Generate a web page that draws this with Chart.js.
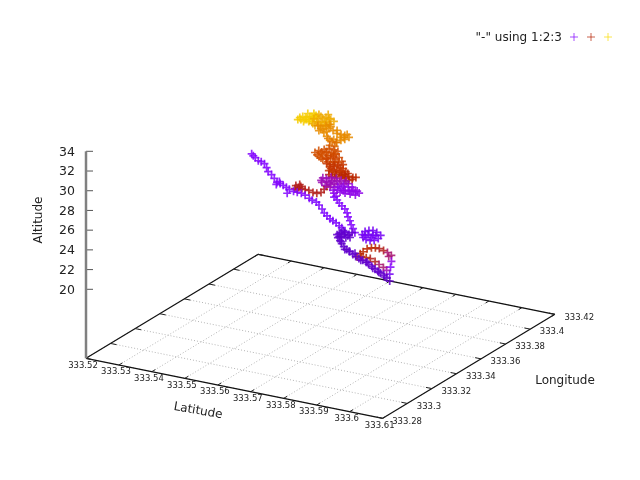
<!DOCTYPE html>
<html>
<head>
<meta charset="utf-8">
<style>
  html, body { margin: 0; padding: 0; background: #fff; }
  canvas { display: block; }
</style>
<script src="https://cdn.jsdelivr.net/npm/chart.js@4"></script>
</head>
<body>
<canvas id="flightChart" width="640" height="480"></canvas>
<script>
// Tick labels of the three axes
const latTicks = ["333.52", "333.53", "333.54", "333.55", "333.56", "333.57", "333.58", "333.59", "333.6", "333.61"];
const lonTicks = ["333.28", "333.3", "333.32", "333.34", "333.36", "333.38", "333.4", "333.42"];
const altTicks = ["20", "22", "24", "26", "28", "30", "32", "34"];

// Flight track
const latitude = [
  333.5588, 333.5576, 333.5578, 333.5573, 333.5569, 333.5582, 333.5594, 333.5592,
  333.5562, 333.5562, 333.5562, 333.5582, 333.5583, 333.5601, 333.5601, 333.5559, 333.5578, 333.5589, 333.5589,
  333.5574, 333.5576, 333.5587, 333.5598, 333.5599, 333.5581, 333.5566, 333.5554, 333.5575,
  333.5586, 333.5594, 333.5607, 333.5614, 333.5614, 333.5578, 333.5592, 333.5558, 333.5583, 333.5597, 333.5603, 333.5616,
  333.5662, 333.5664, 333.5669, 333.5671, 333.5654, 333.5642, 333.5629, 333.5609, 333.5592, 333.5617, 333.5596, 333.5574, 333.5574, 333.5579, 333.5556,
  333.5577, 333.5582, 333.5598, 333.5589, 333.5618, 333.5656, 333.566, 333.5651, 333.5639, 333.5644,
  333.5609, 333.5611, 333.5624, 333.5617, 333.5602,
  333.5592, 333.5572, 333.5571, 333.5582, 333.5598, 333.5611, 333.56, 333.5591,
  333.5558, 333.5559, 333.5568, 333.5575, 333.5582, 333.5583, 333.5605, 333.5606, 333.5602, 333.5607, 333.5575, 333.5583, 333.5608,
  333.563, 333.5615, 333.5604, 333.5611, 333.5595, 333.5588,
  333.5622, 333.5618, 333.5597, 333.5613, 333.5634,
  333.5639, 333.562, 333.5613, 333.5616, 333.56, 333.5589, 333.5627,
  333.5571, 333.5608, 333.5604, 333.5612, 333.5644, 333.5602, 333.5629, 333.5591, 333.5629, 333.5651, 333.5623, 333.5599,
  333.5645, 333.5632, 333.5631, 333.5612, 333.5596, 333.5616, 333.5594, 333.5652, 333.5647,
  333.558, 333.5604, 333.5613, 333.5619, 333.5651, 333.5629,
  333.5953, 333.5949, 333.5948, 333.5946, 333.5952, 333.5961,
  333.5936, 333.5953, 333.5932, 333.5952, 333.595, 333.59, 333.5883, 333.587,
  333.5944, 333.5959, 333.5953, 333.5975, 333.5958, 333.5979, 333.596,
  333.5582, 333.5588, 333.5592, 333.5586, 333.5574, 333.5557, 333.5545, 333.5534, 333.5523, 333.5509, 333.5527, 333.5514, 333.5518, 333.5524,
  333.5482, 333.5477, 333.5484, 333.55, 333.5518, 333.5533, 333.5498, 333.5513, 333.5529, 333.5501, 333.5519, 333.553, 333.5536, 333.5473,
  333.5491, 333.5499, 333.5514, 333.5467, 333.5511, 333.5547,
  333.5513, 333.5509, 333.5511, 333.5527, 333.554, 333.5545, 333.5558, 333.557, 333.5569, 333.5553, 333.5538, 333.5523, 333.5529, 333.55, 333.5508, 333.5523, 333.5532,
  333.5525, 333.5547, 333.5556, 333.5498,
  333.5672, 333.5653, 333.5634, 333.5616, 333.5597, 333.558, 333.556, 333.5542, 333.5525, 333.5509, 333.5491,
  333.5659, 333.5654, 333.5659, 333.5668, 333.5684, 333.5704, 333.571, 333.5708, 333.5699, 333.5686, 333.5672, 333.5672, 333.5686, 333.569, 333.5693, 333.5668,
  333.5439, 333.5418, 333.5402, 333.5389, 333.5377, 333.536, 333.5346, 333.537, 333.5331, 333.5317, 333.5306, 333.5308, 333.5312, 333.5285, 333.5264, 333.5245, 333.5227, 333.5207, 333.5192, 333.5182, 333.5164, 333.5152, 333.5141,
  333.5627, 333.5605, 333.5592, 333.5574, 333.5559, 333.5545, 333.5527, 333.551, 333.549, 333.5468, 333.5451, 333.5434,
  333.5859, 333.5841, 333.5823, 333.5808, 333.5795, 333.5781, 333.5762, 333.5748, 333.5735, 333.572, 333.5704, 333.5689, 333.5675, 333.5657, 333.5643, 333.5625, 333.5609, 333.5594, 333.5578, 333.5565, 333.5566, 333.5575, 333.5592, 333.5596, 333.5583, 333.5593, 333.5581,
  333.5832, 333.5801, 333.5772, 333.5737, 333.5715, 333.5676, 333.5655, 333.5638, 333.56, 333.5577, 333.5605, 333.5591, 333.5566, 333.5564
];
const longitude = [
  333.363, 333.3645, 333.3607, 333.3589, 333.3558, 333.3545, 333.3555, 333.3593,
  333.3552, 333.3592, 333.3633, 333.3571, 333.3611, 333.3561, 333.3602, 333.3576, 333.3567, 333.3577, 333.3618,
  333.3642, 333.3671, 333.3681, 333.3692, 333.372, 333.373, 333.3729, 333.3745, 333.3764,
  333.3627, 333.3647, 333.3645, 333.3666, 333.3706, 333.3713, 333.3726, 333.3694, 333.3665, 333.3677, 333.3629, 333.3642,
  333.3601, 333.3629, 333.3647, 333.3676, 333.3687, 333.3689, 333.3691, 333.3712, 333.3724, 333.364, 333.3673, 333.3707, 333.3748, 333.3766, 333.3731,
  333.3683, 333.3701, 333.369, 333.3748, 333.3721, 333.3701, 333.3665, 333.3657, 333.3606, 333.3624,
  333.3671, 333.3699, 333.3697, 333.3704, 333.3704,
  333.366, 333.3682, 333.3722, 333.3733, 333.3733, 333.3731, 333.3695, 333.3767,
  333.3702, 333.373, 333.375, 333.3771, 333.367, 333.3698, 333.3705, 333.376, 333.3648, 333.3667, 333.3704, 333.3725, 333.3721,
  333.3696, 333.3695, 333.3685, 333.3731, 333.3731, 333.3711,
  333.3692, 333.3662, 333.375, 333.3751, 333.3717,
  333.3704, 333.3714, 333.3693, 333.375, 333.3749, 333.3739, 333.3746,
  333.3763, 333.3715, 333.3766, 333.3786, 333.3722, 333.3697, 333.3722, 333.3767, 333.3708, 333.3688, 333.3689, 333.3721,
  333.3777, 333.3779, 333.375, 333.376, 333.3771, 333.379, 333.3743, 333.3783, 333.3739,
  333.3757, 333.3739, 333.3774, 333.3806, 333.3755, 333.3762,
  333.2985, 333.3022, 333.3048, 333.3086, 333.3105, 333.3113,
  333.3212, 333.3201, 333.3289, 333.3267, 333.3251, 333.3407, 333.3445, 333.3473,
  333.3044, 333.3044, 333.3093, 333.3073, 333.3151, 333.313, 333.3207,
  333.3733, 333.3696, 333.366, 333.3642, 333.3643, 333.3655, 333.3657, 333.366, 333.3664, 333.3678, 333.364, 333.3696, 333.3646, 333.3678,
  333.3962, 333.4011, 333.4031, 333.4031, 333.4022, 333.4022, 333.3977, 333.3977, 333.3978, 333.3938, 333.3929, 333.3939, 333.3998, 333.398,
  333.3979, 333.3999, 333.4, 333.401, 333.3957, 333.4002,
  333.3977, 333.4014, 333.4042, 333.403, 333.4029, 333.4047, 333.4045, 333.4029, 333.4001, 333.4001, 333.4, 333.4, 333.3951, 333.4005, 333.4066, 333.4066, 333.4075,
  333.402, 333.4027, 333.4035, 333.405,
  333.3721, 333.3757, 333.3793, 333.3831, 333.3866, 333.3904, 333.394, 333.3964, 333.3988, 333.4014, 333.4037,
  333.3816, 333.3852, 333.387, 333.3879, 333.3867, 333.3845, 333.3809, 333.3781, 333.3772, 333.3774, 333.3788, 333.3828, 333.3829, 333.3805, 333.3835, 333.3812,
  333.3975, 333.3997, 333.4009, 333.4011, 333.4013, 333.4024, 333.4038, 333.398, 333.4052, 333.4065, 333.4069, 333.4083, 333.4047, 333.4103, 333.4137, 333.416, 333.4196, 333.4232, 333.4246, 333.4249, 333.4273, 333.4289, 333.4305,
  333.376, 333.3794, 333.3808, 333.3831, 333.3845, 333.3859, 333.3883, 333.3906, 333.3942, 333.3976, 333.4, 333.4011,
  333.3503, 333.3527, 333.3551, 333.3564, 333.3578, 333.3592, 333.3616, 333.3629, 333.3643, 333.3657, 333.3668, 333.3682, 333.3696, 333.372, 333.3733, 333.3757, 333.3783, 333.3809, 333.3835, 333.3863, 333.3891, 333.3899, 333.3888, 333.3851, 333.3853, 333.3875, 333.3877,
  333.3533, 333.357, 333.3598, 333.3646, 333.3654, 333.3711, 333.3719, 333.373, 333.3802, 333.3848, 333.3861, 333.3915, 333.3878, 333.3916
];
const altitude = [
  34, 34, 34, 34, 34, 34, 34, 34,
  34, 34, 34, 34, 34, 34, 34, 34, 34, 34, 34,
  33, 33, 33, 33, 33, 33, 33, 33, 33,
  33, 33, 33, 33, 33, 33, 33, 33, 33, 33, 33, 33,
  32, 32, 32, 32, 32, 32, 32, 32, 32, 32, 32, 32, 32, 32, 32,
  32, 32, 32, 32, 32, 32, 32, 32, 32, 32,
  31.5, 31, 31, 30.5, 30.5,
  29.5, 29.5, 29.5, 29.5, 29.5, 29.5, 29.5, 29.5,
  29.5, 29.5, 29.5, 29.5, 29.5, 29.5, 29.5, 29.5, 29.5, 29.5, 29.5, 29.5, 29.5,
  29, 29, 29, 29, 29, 29,
  29, 29, 29, 29, 29,
  28, 28, 28, 28, 28, 28, 28,
  28, 28, 28, 28, 28, 28, 28, 28, 28, 28, 28, 28,
  27, 27, 27, 27, 27, 27, 27, 27, 27,
  27, 27, 27, 27, 27, 27,
  27, 27, 27, 27, 27, 27,
  26, 26, 25, 25, 25, 23, 22, 21,
  26.5, 26.5, 26, 26, 25, 25, 24,
  26, 26, 26, 26, 26, 26, 26, 26, 26, 26, 26, 26, 26, 26,
  24, 24, 24, 24, 24, 24, 24, 24, 24, 24, 24, 24, 24, 24,
  24, 24, 24, 24, 24, 24,
  23, 23, 23, 23, 23, 23, 23, 23, 23, 23, 23, 23, 23, 23, 23, 23, 23,
  23, 23, 23, 23,
  22, 22, 22, 22, 22, 22, 22, 22, 22, 22, 22,
  21, 21, 21, 21, 21, 21, 21, 21, 21, 21, 21, 21, 21, 21, 21, 21,
  22, 22, 22, 22, 22, 22, 22, 22, 22, 22, 22, 22, 22, 22, 22, 22, 22, 22, 22, 22, 22, 22, 22,
  21.5, 21.5, 21.5, 21.5, 21.5, 21.5, 21.5, 21.5, 21.5, 21.5, 21.5, 21.5,
  20, 20, 20, 20, 20, 20, 20, 20, 20, 20, 20, 20, 20, 20, 20, 20, 20, 20, 20, 20, 20, 20, 20, 20, 20, 20, 20,
  20, 20, 20, 20, 20, 20, 20, 20, 20, 20, 20, 20, 20, 20
];

const latMin = 333.52, latMax = 333.61;
const lonMin = 333.28, lonMax = 333.42;
const altBase = 13;

// Fixed view of the 3D box onto the page
function project(lat, lon, alt) {
    const a = (lat - latMin) / (latMax - latMin);
    const b = (lon - lonMin) / (lonMax - lonMin);
    return {
        x: 86 + 296.7 * a + 172.2 * b,
        y: 358.3 + 60 * a - 104 * b - 9.857 * (alt - altBase)
    };
}

// Palette 7,5,15 (colour follows altitude)
function palette(g, alpha) {
    const r = Math.sqrt(g);
    const gr = g * g * g;
    const bl = Math.max(0, Math.sin(2 * Math.PI * g));
    return `rgba(${Math.round(r * 255)}, ${Math.round(gr * 255)}, ${Math.round(bl * 255)}, ${alpha})`;
}

function altColor(alt) {
    return palette(0.15 + (alt - 20) * 0.0557, 0.85);
}

function line3d(from, to, color, width, dash) {
    return {
        type: "line",
        data: [project(...from), project(...to)],
        borderColor: color,
        borderWidth: width,
        borderDash: dash || [],
        pointRadius: 0,
        showLine: true
    };
}

const latStep = (latMax - latMin) * 0.02;
const lonStep = (lonMax - lonMin) * 0.02;
const base = [];
const grid = [];

latTicks.forEach(t => {
    const lat = parseFloat(t);
    grid.push(line3d([lat, lonMin, altBase], [lat, lonMax, altBase], "#b4b4b4", 1, [1, 2]));
    base.push(line3d([lat, lonMin, altBase], [lat, lonMin + lonStep, altBase], "#222", 1));
    base.push(line3d([lat, lonMax, altBase], [lat, lonMax - lonStep, altBase], "#222", 1));
});
lonTicks.forEach(t => {
    const lon = parseFloat(t);
    grid.push(line3d([latMin, lon, altBase], [latMax, lon, altBase], "#b4b4b4", 1, [1, 2]));
    base.push(line3d([latMin, lon, altBase], [latMin + latStep, lon, altBase], "#222", 1));
    base.push(line3d([latMax, lon, altBase], [latMax - latStep, lon, altBase], "#222", 1));
});
base.push(line3d([latMin, lonMin, altBase], [latMax, lonMin, altBase], "#111", 1.2));
base.push(line3d([latMax, lonMin, altBase], [latMax, lonMax, altBase], "#111", 1.2));
base.push(line3d([latMax, lonMax, altBase], [latMin, lonMax, altBase], "#111", 1.2));
base.push(line3d([latMin, lonMax, altBase], [latMin, lonMin, altBase], "#111", 1.2));

// Altitude axis with its ticks, all standing on the left corner
const altAxis = [line3d([latMin, lonMin, altBase], [latMin, lonMin, 34], "#808080", 2.5)];
altTicks.forEach(t => {
    const from = project(latMin, lonMin, parseFloat(t));
    altAxis.push({
        type: "line",
        data: [from, { x: from.x + 7, y: from.y }],
        borderColor: "#555",
        borderWidth: 1,
        pointRadius: 0
    });
});

const track = {
    type: "scatter",
    data: latitude.map((lat, i) => project(lat, longitude[i], altitude[i])),
    pointStyle: "cross",
    pointRadius: 4,
    pointBorderWidth: 1.7,
    pointBorderColor: altitude.map(altColor),
    showLine: false
};

// Axis texts and the key are drawn after the datasets
const axisText = {
    id: "axisText",
    afterDraw(chart) {
        const ctx = chart.ctx;
        ctx.save();
        ctx.fillStyle = "#222";
        ctx.textBaseline = "middle";

        ctx.font = "8.5px 'DejaVu Sans'";
        ctx.textAlign = "center";
        latTicks.forEach(t => {
            const p = project(parseFloat(t), lonMin, altBase);
            ctx.fillText(t, p.x - 3, p.y + 7);
        });
        ctx.textAlign = "left";
        lonTicks.forEach(t => {
            const p = project(latMax, parseFloat(t), altBase);
            ctx.fillText(t, p.x + 9.5, p.y + 3);
        });

        ctx.font = "12.5px 'DejaVu Sans'";
        ctx.textAlign = "right";
        altTicks.forEach(t => {
            const p = project(latMin, lonMin, parseFloat(t));
            ctx.fillText(t, p.x - 11, p.y + 1);
        });

        ctx.font = "12px 'DejaVu Sans'";
        ctx.textAlign = "center";
        ctx.fillText("Longitude", 565, 380.5);
        ctx.save();
        ctx.translate(198, 411);
        ctx.rotate(10 * Math.PI / 180);
        ctx.fillText("Latitude", 0, 0);
        ctx.restore();
        ctx.save();
        ctx.translate(38.5, 220);
        ctx.rotate(-Math.PI / 2);
        ctx.fillText("Altitude", 0, 0);
        ctx.restore();

        ctx.textAlign = "right";
        ctx.fillText('"-" using 1:2:3', 562, 37.5);
        [[574, 0.25], [591, 0.5], [608, 0.95]].forEach(([x, g]) => {
            ctx.strokeStyle = palette(g, 0.7);
            ctx.lineWidth = 1;
            ctx.beginPath();
            ctx.moveTo(x - 4, 37);
            ctx.lineTo(x + 4, 37);
            ctx.moveTo(x, 33);
            ctx.lineTo(x, 41);
            ctx.stroke();
        });
        ctx.restore();
    }
};

new Chart(document.getElementById("flightChart").getContext("2d"), {
    type: "scatter",
    data: { datasets: [track, ...altAxis, ...base, ...grid] }, // first one is drawn on top
    options: {
        responsive: false,
        animation: false,
        layout: { padding: 0, autoPadding: false },
        plugins: { legend: { display: false }, tooltip: { enabled: false } },
        scales: {
            x: { type: "linear", display: false, min: 0, max: 640 },
            y: { type: "linear", display: false, min: 0, max: 480, reverse: true }
        }
    },
    plugins: [axisText]
});
</script>
</body>
</html>
